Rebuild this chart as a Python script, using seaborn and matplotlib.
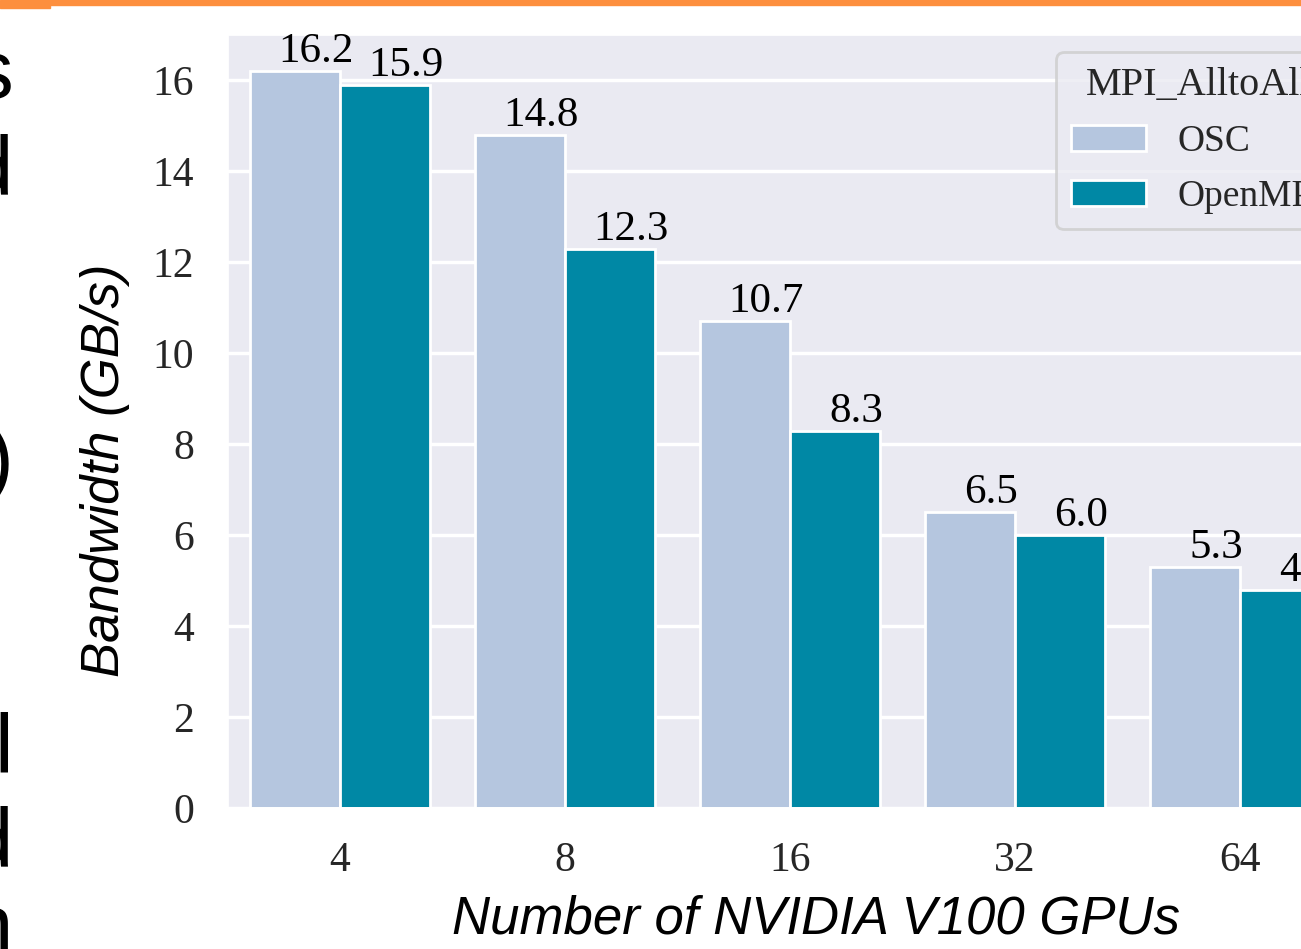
import pandas as pd
import matplotlib.pyplot as plt
from matplotlib.patches import Rectangle
import seaborn as sns

# Donnees
gpus = ["4", "8", "16", "32", "64"]
osc = [16.2, 14.8, 10.7, 6.5, 5.3]
openmpi = [15.9, 12.3, 8.3, 6.0, 4.8]
methods = ["OSC", "OpenMPI"]
colors = ["#b5c6df", "#0088a5"]
yticks = [0, 2, 4, 6, 8, 10, 12, 14, 16]

# fragments du texte de la diapo (coupes a gauche)
side_letters = ["s", "d", ")", "l", "d", "n"]
side_baselines = [98, 195, 486, 772, 867, 953]

df = pd.DataFrame({
    "gpus": gpus * 2,
    "bw": osc + openmpi,
    "MPI_AlltoAll": [methods[0]] * len(gpus) + [methods[1]] * len(gpus),
})

sns.set_theme(style="darkgrid")
plt.rcParams["font.family"] = ["Liberation Serif", "DejaVu Serif"]

W, H = 1301, 949
fig = plt.figure(figsize=(W / 100, H / 100), dpi=100)
ax = fig.add_axes([227.5 / W, 1 - 808 / H, 1125 / W, 773 / H])

sns.barplot(data=df, x="gpus", y="bw", hue="MPI_AlltoAll", order=gpus,
            hue_order=methods, palette=dict(zip(methods, colors)),
            saturation=1, edgecolor="white", linewidth=2, ax=ax)

# valeurs au-dessus des barres
for cont in ax.containers:
    for bar in cont:
        h = bar.get_height()
        ax.annotate(f"{h:.1f}", (bar.get_x() + bar.get_width() / 2, h),
                    xytext=(15, 0), textcoords="offset points",
                    ha="center", va="bottom", fontsize=31, color="black",
                    annotation_clip=False)

ax.set_ylim(0, 17)
ax.set_yticks(yticks)
ax.grid(axis="y", color="white", linewidth=2.5)
ax.tick_params(axis="both", labelsize=30, pad=24, length=0, labelcolor="#262626")

ax.set_xlabel("Number of NVIDIA V100 GPUs", family="Liberation Sans",
              style="italic", fontsize=38, color="black")
ax.set_ylabel("Bandwidth (GB/s)", family="Liberation Sans",
              style="italic", fontsize=38, color="black")
ax.xaxis.set_label_coords(0.523, -0.1125)
ax.yaxis.set_label_coords(-0.087, 0.437)

sns.move_legend(ax, "upper left", bbox_to_anchor=(0.7365, 0.978),
                borderaxespad=0, fontsize=27, title_fontsize=29, frameon=True,
                handlelength=2.0, handletextpad=0.85, labelspacing=0.55)
leg = ax.get_legend()
leg.get_frame().set_edgecolor("#cccccc")
leg.get_frame().set_linewidth(2)

# bande orange en haut de la diapo
fig.patches.append(Rectangle((0, 1 - 8 / H), 50 / W, 8 / H,
                             transform=fig.transFigure, color="#fd8f3e"))
fig.patches.append(Rectangle((50 / W, 1 - 5 / H), 1 - 50 / W, 5 / H,
                             transform=fig.transFigure, color="#fd8f3e"))

for letter, yb in zip(side_letters, side_baselines):
    fig.text(13 / W, 1 - yb / H, letter, ha="right", va="baseline",
             family="Liberation Sans", fontsize=60, color="black")

fig.savefig("out.png", dpi=100)
